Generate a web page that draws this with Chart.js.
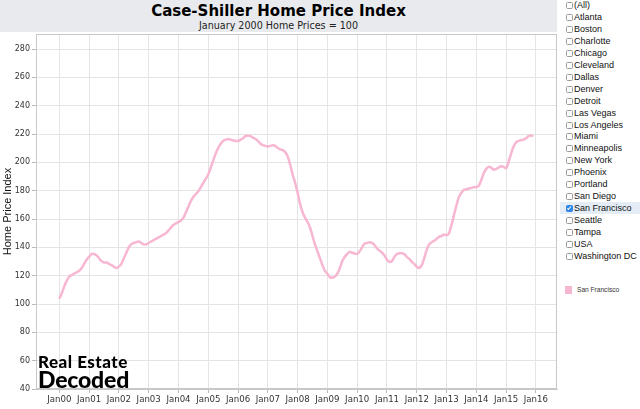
<!DOCTYPE html>
<html>
<head>
<meta charset="utf-8">
<script src="https://cdn.jsdelivr.net/npm/chart.js@4.4.1/dist/chart.umd.min.js"></script>
<style>
  html, body { margin: 0; padding: 0; background: #fff; }
  body { width: 640px; height: 409px; position: relative; overflow: hidden; }
  #header { position: absolute; left: 0; top: 0; width: 557px; height: 32px; background: #e9eaed; }
  #title { position: absolute; left: 0; width: 557px; top: 2px; text-align: center;
    font: bold 15px "DejaVu Sans"; color: #000; }
  #subtitle { position: absolute; left: 0; width: 557px; top: 19.5px; text-align: center;
    font: 9.6px "DejaVu Sans"; color: #222; }
  #wrap { position: absolute; left: 0; top: 0; width: 560px; height: 409px; }
  #logo { position: absolute; left: 38px; top: 0; font-family: Lato; font-weight: 900; color: #000; }
  #logo .l1 { position: absolute; left: 0; top: 355px; height: 14px; line-height: 14px; font-size: 17px;
    letter-spacing: 0.5px; white-space: nowrap; }
  #logo .l2 { position: absolute; left: 0; top: 370px; height: 19px; line-height: 19px; font-size: 23px;
    letter-spacing: -0.2px; white-space: nowrap; }
  #filters { position: absolute; left: 560px; top: 0; width: 80px; font: 9px "Liberation Sans"; color: #111; }
  .row { position: absolute; left: 0; width: 80px; height: 12px; line-height: 12px; }
  .row.sel { background: #e4ecf6; }
  .box { position: absolute; left: 6px; top: 3px; width: 5px; height: 5px; border: 1px solid #9a9a9a;
    border-radius: 1.5px; background: #fff; }
  .sel .box { background: #2f86e6; border-color: #2f86e6; }
  .sel .box::after { content: ""; position: absolute; left: 1.3px; top: 0px; width: 1.4px; height: 3px;
    border: solid #fff; border-width: 0 1.1px 1.1px 0; transform: rotate(40deg); }
  .lbl { position: absolute; left: 14px; top: 0; white-space: nowrap; }
  #legend { position: absolute; left: 565px; top: 286px; font: 6.6px "Liberation Sans"; color: #333; }
  #legend .sw { position: absolute; left: 0; top: 0; width: 7px; height: 8px; }
  #legend .tx { position: absolute; left: 12px; top: 0px; line-height: 8px; white-space: nowrap; }
</style>
</head>
<body>
<div id="header">
  <div id="title">Case-Shiller Home Price Index</div>
  <div id="subtitle">January 2000 Home Prices = 100</div>
</div>
<div id="wrap"><canvas id="chart" width="560" height="409"></canvas></div>
<div id="logo"><div class="l1">Real Estate</div><div class="l2">Decoded</div></div>
<div id="filters"></div>
<div id="legend"><div class="sw"></div><div class="tx"></div></div>
<script>
// monthly index, Jan 2000 .. Dec 2015
const sfIndex = [
  103.7, 107.6, 112.5, 116.5, 119.4, 120.4, 121.4, 122.4, 123.4, 125.4, 128.3, 131.3, // 2000
  133.3, 135.3, 135.3, 134.3, 132.3, 130.3, 129.3, 129.3, 128.3, 127.4, 126.4, 125.4, // 2001
  126.4, 128.3, 132.3, 136.2, 140.1, 142.1, 143.1, 143.6, 144.1, 143.1, 142.1, 142.1, // 2002
  143.1, 144.1, 145.1, 146.0, 147.0, 148.0, 149.0, 150.0, 152.0, 153.9, 155.9, 156.9, // 2003
  157.9, 158.9, 160.9, 164.8, 168.7, 172.7, 175.6, 177.6, 179.6, 182.5, 185.5, 188.4, // 2004
  191.4, 196.3, 201.3, 206.2, 210.1, 213.1, 215.1, 216.0, 216.5, 216.0, 215.6, 215.1, // 2005
  215.1, 216.0, 217.0, 218.5, 219.0, 218.5, 217.5, 216.5, 215.1, 213.1, 212.1, 211.6, // 2006
  211.1, 211.6, 212.1, 211.6, 210.1, 209.1, 208.6, 207.2, 204.2, 198.3, 191.4, 185.5, // 2007
  178.6, 170.7, 164.8, 160.9, 157.9, 154.0, 148.0, 142.1, 137.2, 132.3, 127.4, 123.4, // 2008
  121.4, 118.9, 118.5, 119.4, 121.4, 125.4, 130.3, 133.3, 135.3, 136.8, 136.2, 135.7, // 2009
  135.3, 137.2, 140.1, 142.6, 143.1, 143.6, 143.1, 141.6, 139.2, 137.7, 136.2, 134.2, // 2010
  131.3, 129.8, 130.3, 133.3, 135.3, 135.7, 135.9, 135.3, 133.3, 131.8, 129.8, 128.3, // 2011
  126.4, 125.4, 127.4, 132.3, 138.2, 142.1, 143.6, 144.6, 146.0, 147.5, 148.0, 149.0, // 2012
  148.5, 150.0, 155.9, 162.8, 169.7, 175.6, 178.6, 180.6, 181.0, 181.5, 182.0, 182.5, // 2013
  182.5, 183.5, 187.5, 192.4, 195.4, 196.8, 196.3, 194.8, 195.4, 196.3, 197.3, 196.8, // 2014
  195.8, 200.3, 206.2, 211.1, 214.1, 215.1, 215.6, 216.0, 217.0, 218.5, 219.0, 218.5  // 2015
];
const seriesName = "San Francisco";
const xTickLabels = ["Jan00", "Jan01", "Jan02", "Jan03", "Jan04", "Jan05", "Jan06", "Jan07", "Jan08",
  "Jan09", "Jan10", "Jan11", "Jan12", "Jan13", "Jan14", "Jan15", "Jan16"];
const cities = ["(All)", "Atlanta", "Boston", "Charlotte", "Chicago", "Cleveland", "Dallas", "Denver",
  "Detroit", "Las Vegas", "Los Angeles", "Miami", "Minneapolis", "New York", "Phoenix", "Portland",
  "San Diego", "San Francisco", "Seattle", "Tampa", "USA", "Washington DC"];
const selected = ["San Francisco"];
const lineColor = "#f7b6d2";

// filter list
const filters = document.getElementById("filters");
cities.forEach((c, i) => {
  const row = document.createElement("div");
  row.className = "row" + (selected.includes(c) ? " sel" : "");
  row.style.top = (-1 + i * 11.95) + "px";
  row.innerHTML = '<div class="box"></div><div class="lbl"></div>';
  row.querySelector(".lbl").textContent = c;
  filters.appendChild(row);
});
document.querySelector("#legend .sw").style.background = lineColor;
document.querySelector("#legend .tx").textContent = seriesName;

const plotBox = {
  id: "plotBox",
  beforeDatasetsDraw(chart) {
    const { ctx, chartArea: a } = chart;
    ctx.save();
    ctx.strokeStyle = "#c8c8c8";
    ctx.lineWidth = 1;
    ctx.strokeRect(a.left + 0.5, a.top + 0.5, a.right - a.left - 1, a.bottom - a.top - 1);
    ctx.restore();
  }
};

new Chart(document.getElementById("chart"), {
  type: "line",
  data: {
    datasets: [{
      label: seriesName,
      data: sfIndex.map((v, i) => ({ x: i, y: v })),
      borderColor: lineColor,
      borderWidth: 2.5,
      pointRadius: 0,
      tension: 0.3,
      fill: false
    }]
  },
  options: {
    responsive: false,
    animation: false,
    devicePixelRatio: 1,
    layout: { padding: { top: 34, right: 3, left: 0, bottom: 0 } },
    plugins: { legend: { display: false }, tooltip: { enabled: false } },
    scales: {
      x: {
        type: "linear",
        min: -9.4,
        max: 200.5,
        afterFit(s) { s.height = 20; },
        afterBuildTicks(s) { s.ticks = s.ticks.filter(t => t.value >= 0 && t.value % 12 === 0); },
        grid: { color: "#e4e4e4", tickLength: 4, tickColor: "#bbb" },
        border: { color: "#c8c8c8" },
        ticks: {
          stepSize: 12,
          includeBounds: false,
          maxRotation: 0,
          autoSkip: false,
          padding: 2,
          color: "#333",
          font: { family: "DejaVu Sans", size: 8.6 },
          callback: v => xTickLabels[v / 12]
        }
      },
      y: {
        min: 40,
        max: 290.6,
        afterFit(s) { s.width = 36; },
        afterBuildTicks(s) { s.ticks = s.ticks.filter(t => t.value % 20 === 0); },
        grid: { color: "#e4e4e4", tickLength: 4, tickColor: "#bbb" },
        border: { color: "#c8c8c8" },
        title: {
          display: true,
          text: "Home Price Index",
          color: "#111",
          padding: { top: 1, bottom: 0 },
          font: { family: "Liberation Sans", size: 11 }
        },
        ticks: {
          stepSize: 20,
          includeBounds: false,
          padding: 2,
          color: "#333",
          font: { family: "DejaVu Sans", size: 8 }
        }
      }
    }
  },
  plugins: [plotBox]
});
</script>
</body>
</html>
